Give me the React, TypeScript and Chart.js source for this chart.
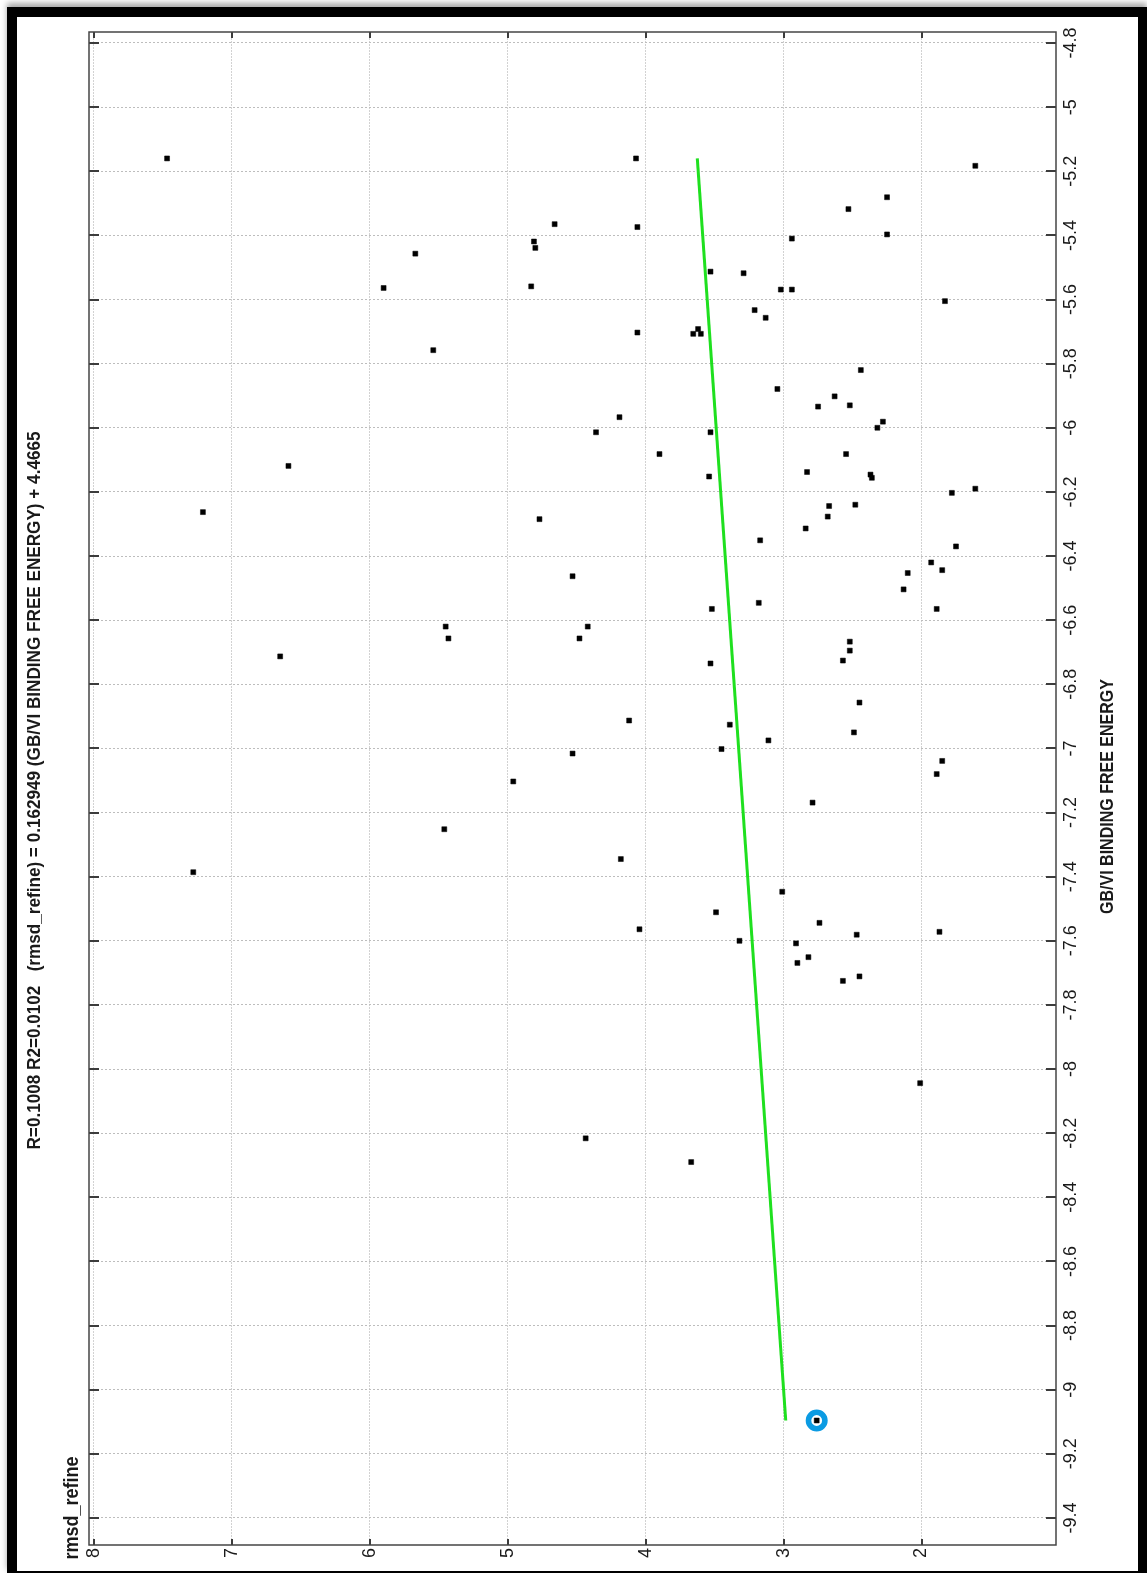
import React, { useEffect, useRef } from "react";
import { Chart, registerables } from "chart.js";

Chart.register(...registerables);

// rmsd_refine (horizontal on screen) and GB/VI binding free energy (vertical on screen)
const rmsdRefine = [
  7.47, 4.07, 1.61, 2.25, 2.53, 4.66, 4.06, 2.25, 2.94, 4.81,
  4.8, 5.67, 3.53, 3.29, 5.9, 4.83, 3.02, 2.94, 1.83, 3.21,
  3.13, 4.06, 3.62, 3.655, 3.6, 5.54, 2.44, 3.045, 2.63, 2.75,
  2.52, 4.19, 2.28, 2.32, 4.36, 3.53, 3.9, 6.59, 3.54, 2.83,
  2.547, 2.37, 2.36, 1.61, 1.78, 7.21, 4.77, 2.67, 2.48, 2.68,
  2.84, 3.17, 1.75, 1.93, 1.85, 2.1, 4.53, 2.13, 3.52, 3.18,
  1.89, 5.45, 5.43, 4.42, 4.48, 2.52, 2.52, 6.65, 2.57, 3.53,
  2.45, 4.12, 3.39, 2.49, 3.11, 3.45, 4.53, 1.85, 1.89, 4.96,
  2.79, 5.46, 4.18, 7.28, 3.01, 3.49, 2.74, 4.045, 2.47, 1.87,
  3.32, 2.91, 2.82, 2.9, 2.45, 2.57, 2.01, 4.435, 3.67, 2.76,
];
const gbviEnergy = [
  -5.16, -5.16, -5.183, -5.281, -5.318, -5.365, -5.374, -5.397, -5.41, -5.419,
  -5.439, -5.457, -5.513, -5.518, -5.564, -5.559, -5.569, -5.569, -5.605, -5.633,
  -5.657, -5.703, -5.692, -5.707, -5.707, -5.758, -5.82, -5.879, -5.902, -5.934,
  -5.93, -5.967, -5.981, -6.0, -6.014, -6.014, -6.082, -6.119, -6.152, -6.138,
  -6.082, -6.146, -6.156, -6.19, -6.203, -6.263, -6.285, -6.244, -6.24, -6.277,
  -6.314, -6.351, -6.37, -6.42, -6.444, -6.453, -6.463, -6.504, -6.565, -6.546,
  -6.565, -6.62, -6.657, -6.62, -6.657, -6.667, -6.695, -6.713, -6.726, -6.735,
  -6.857, -6.913, -6.926, -6.95, -6.975, -7.002, -7.016, -7.039, -7.08, -7.103,
  -7.169, -7.252, -7.345, -7.386, -7.447, -7.511, -7.544, -7.564, -7.581, -7.572,
  -7.6, -7.608, -7.651, -7.669, -7.711, -7.725, -8.044, -8.216, -8.29, -9.096,
];

// regression line end points
const fitEnergy = [-5.16, -9.096];
const fitRmsd = [3.6257, 2.9843];

// highlighted point
const highlightRmsd = [2.76];
const highlightEnergy = [-9.096];

const energyTicks = [
  -4.8, -5, -5.2, -5.4, -5.6, -5.8, -6, -6.2, -6.4, -6.6, -6.8, -7,
  -7.2, -7.4, -7.6, -7.8, -8, -8.2, -8.4, -8.6, -8.8, -9, -9.2, -9.4,
];
const rmsdTicks = [8, 7, 6, 5, 4, 3, 2];

const titleText =
  "R=0.1008 R2=0.0102   (rmsd_refine) = 0.162949 (GB/VI BINDING FREE ENERGY) + 4.4665";
const rmsdLabel = "rmsd_refine";
const energyLabel = "GB/VI BINDING FREE ENERGY";

const CANVAS_W = 1121;
const CANVAS_H = 1554;

function drawRotated(
  ctx: CanvasRenderingContext2D,
  text: string,
  x: number,
  y: number,
  font: string,
  maxWidth: number
) {
  ctx.save();
  ctx.translate(x, y);
  ctx.rotate(-Math.PI / 2);
  ctx.font = font;
  ctx.fillStyle = "#1a1a1a";
  ctx.textAlign = "center";
  ctx.textBaseline = "middle";
  ctx.fillText(text, 0, 0, maxWidth);
  ctx.restore();
}

const framePlugin = {
  id: "framePlugin",
  afterDraw(chart: any) {
    const { ctx, chartArea: a, scales } = chart;
    const xs = scales.x;
    const ys = scales.y;
    ctx.save();
    ctx.strokeStyle = "#3c3c3c";
    ctx.lineWidth = 2;
    ctx.beginPath();
    for (const v of energyTicks) {
      const py = Math.round(ys.getPixelForValue(v));
      ctx.moveTo(a.left, py);
      ctx.lineTo(a.left + 10, py);
      ctx.moveTo(a.right, py);
      ctx.lineTo(a.right - 10, py);
    }
    for (const v of rmsdTicks) {
      const px = Math.round(xs.getPixelForValue(v));
      ctx.moveTo(px, a.top);
      ctx.lineTo(px, a.top + 6);
      ctx.moveTo(px, a.bottom);
      ctx.lineTo(px, a.bottom - 6);
    }
    ctx.stroke();
    ctx.lineWidth = 1.5;
    ctx.strokeStyle = "#454545";
    ctx.strokeRect(a.left, a.top, a.right - a.left, a.bottom - a.top);
    ctx.restore();

    const bold = (s: number) => `bold ${s}px "Liberation Sans", Arial, sans-serif`;
    drawRotated(ctx, titleText, 18, (a.top + a.bottom) / 2 + 2, bold(18), 718);
    drawRotated(ctx, energyLabel, 1091, (a.top + a.bottom) / 2 + 8, bold(19), 235);
    drawRotated(ctx, rmsdLabel, 55, 1491, bold(20), 103);
  },
};

export default function App() {
  const canvasRef = useRef<HTMLCanvasElement | null>(null);

  useEffect(() => {
    const canvas = canvasRef.current;
    if (!canvas) return;
    const points = rmsdRefine.map((r, i) => ({ x: r, y: gbviEnergy[i] }));
    const fit = fitRmsd.map((r, i) => ({ x: r, y: fitEnergy[i] }));
    const hl = highlightRmsd.map((r, i) => ({ x: r, y: highlightEnergy[i] }));
    const tickFont = { family: '"Liberation Sans", Arial, sans-serif', size: 18 };

    const chart = new Chart(canvas, {
      type: "scatter",
      data: {
        datasets: [
          {
            label: "data",
            data: points,
            pointStyle: "rect",
            pointRadius: 3.5,
            borderWidth: 0.5,
            backgroundColor: "#000000",
            borderColor: "#000000",
            showLine: false,
          },
          {
            label: "fit",
            data: fit,
            showLine: true,
            pointRadius: 0,
            borderColor: "#1fe01f",
            borderWidth: 3,
            fill: false,
          },
          {
            label: "highlight",
            data: hl,
            pointStyle: "circle",
            pointRadius: 8.2,
            borderWidth: 5.6,
            borderColor: "#0b9be3",
            backgroundColor: "#ffffff",
            showLine: false,
          },
        ],
      },
      options: {
        animation: false,
        responsive: false,
        events: [],
        layout: { padding: { left: 72, top: 15, right: 42, bottom: 0 } },
        plugins: {
          legend: { display: false },
          tooltip: { enabled: false },
          title: { display: false },
        },
        scales: {
          x: {
            type: "linear",
            position: "bottom",
            reverse: true,
            min: 1.025,
            max: 8.036,
            afterBuildTicks: (axis: any) => {
              axis.ticks = rmsdTicks.map((v) => ({ value: v }));
            },
            afterFit: (axis: any) => {
              axis.height = 26;
            },
            ticks: {
              autoSkip: false,
              minRotation: 90,
              maxRotation: 90,
              padding: 3,
              color: "#1a1a1a",
              font: tickFont,
              callback: (v: any) => String(Math.round(Number(v) * 10) / 10),
            },
            grid: {
              color: "#d2d2d2",
              lineWidth: 1,
              drawTicks: false,
            },
            border: { display: false, dash: [2, 1] },
          },
          y: {
            type: "linear",
            position: "right",
            min: -9.4843,
            max: -4.7657,
            afterBuildTicks: (axis: any) => {
              axis.ticks = energyTicks.map((v) => ({ value: v }));
            },
            afterFit: (axis: any) => {
              axis.width = 40;
            },
            ticks: {
              autoSkip: false,
              minRotation: 90,
              maxRotation: 90,
              crossAlign: "center",
              padding: 0,
              color: "#1a1a1a",
              font: tickFont,
              callback: (v: any) => String(Math.round(Number(v) * 10) / 10),
            },
            grid: {
              color: "#bdbdbd",
              lineWidth: 1,
              drawTicks: false,
            },
            border: { display: false, dash: [2, 2] },
          },
        },
      },
      plugins: [framePlugin],
    } as any);

    return () => {
      chart.destroy();
    };
  }, []);

  return (
    <div
      style={{
        position: "absolute",
        left: 0,
        top: 0,
        width: 1147,
        height: 1573,
        background: "#ffffff",
        overflow: "hidden",
      }}
    >
      <div
        style={{
          position: "absolute",
          left: 7,
          top: 7,
          width: 1140,
          height: 1566,
          boxSizing: "border-box",
          borderStyle: "solid",
          borderColor: "#000000",
          borderTopWidth: 10,
          borderLeftWidth: 10,
          borderRightWidth: 9,
          borderBottomWidth: 2,
          background: "#ffffff",
          boxShadow: "0 -4px 6px rgba(0,0,0,0.35)",
        }}
      >
        <canvas
          ref={canvasRef}
          width={CANVAS_W}
          height={CANVAS_H}
          style={{ position: "absolute", left: 0, top: 0, width: CANVAS_W, height: CANVAS_H }}
        />
      </div>
    </div>
  );
}
